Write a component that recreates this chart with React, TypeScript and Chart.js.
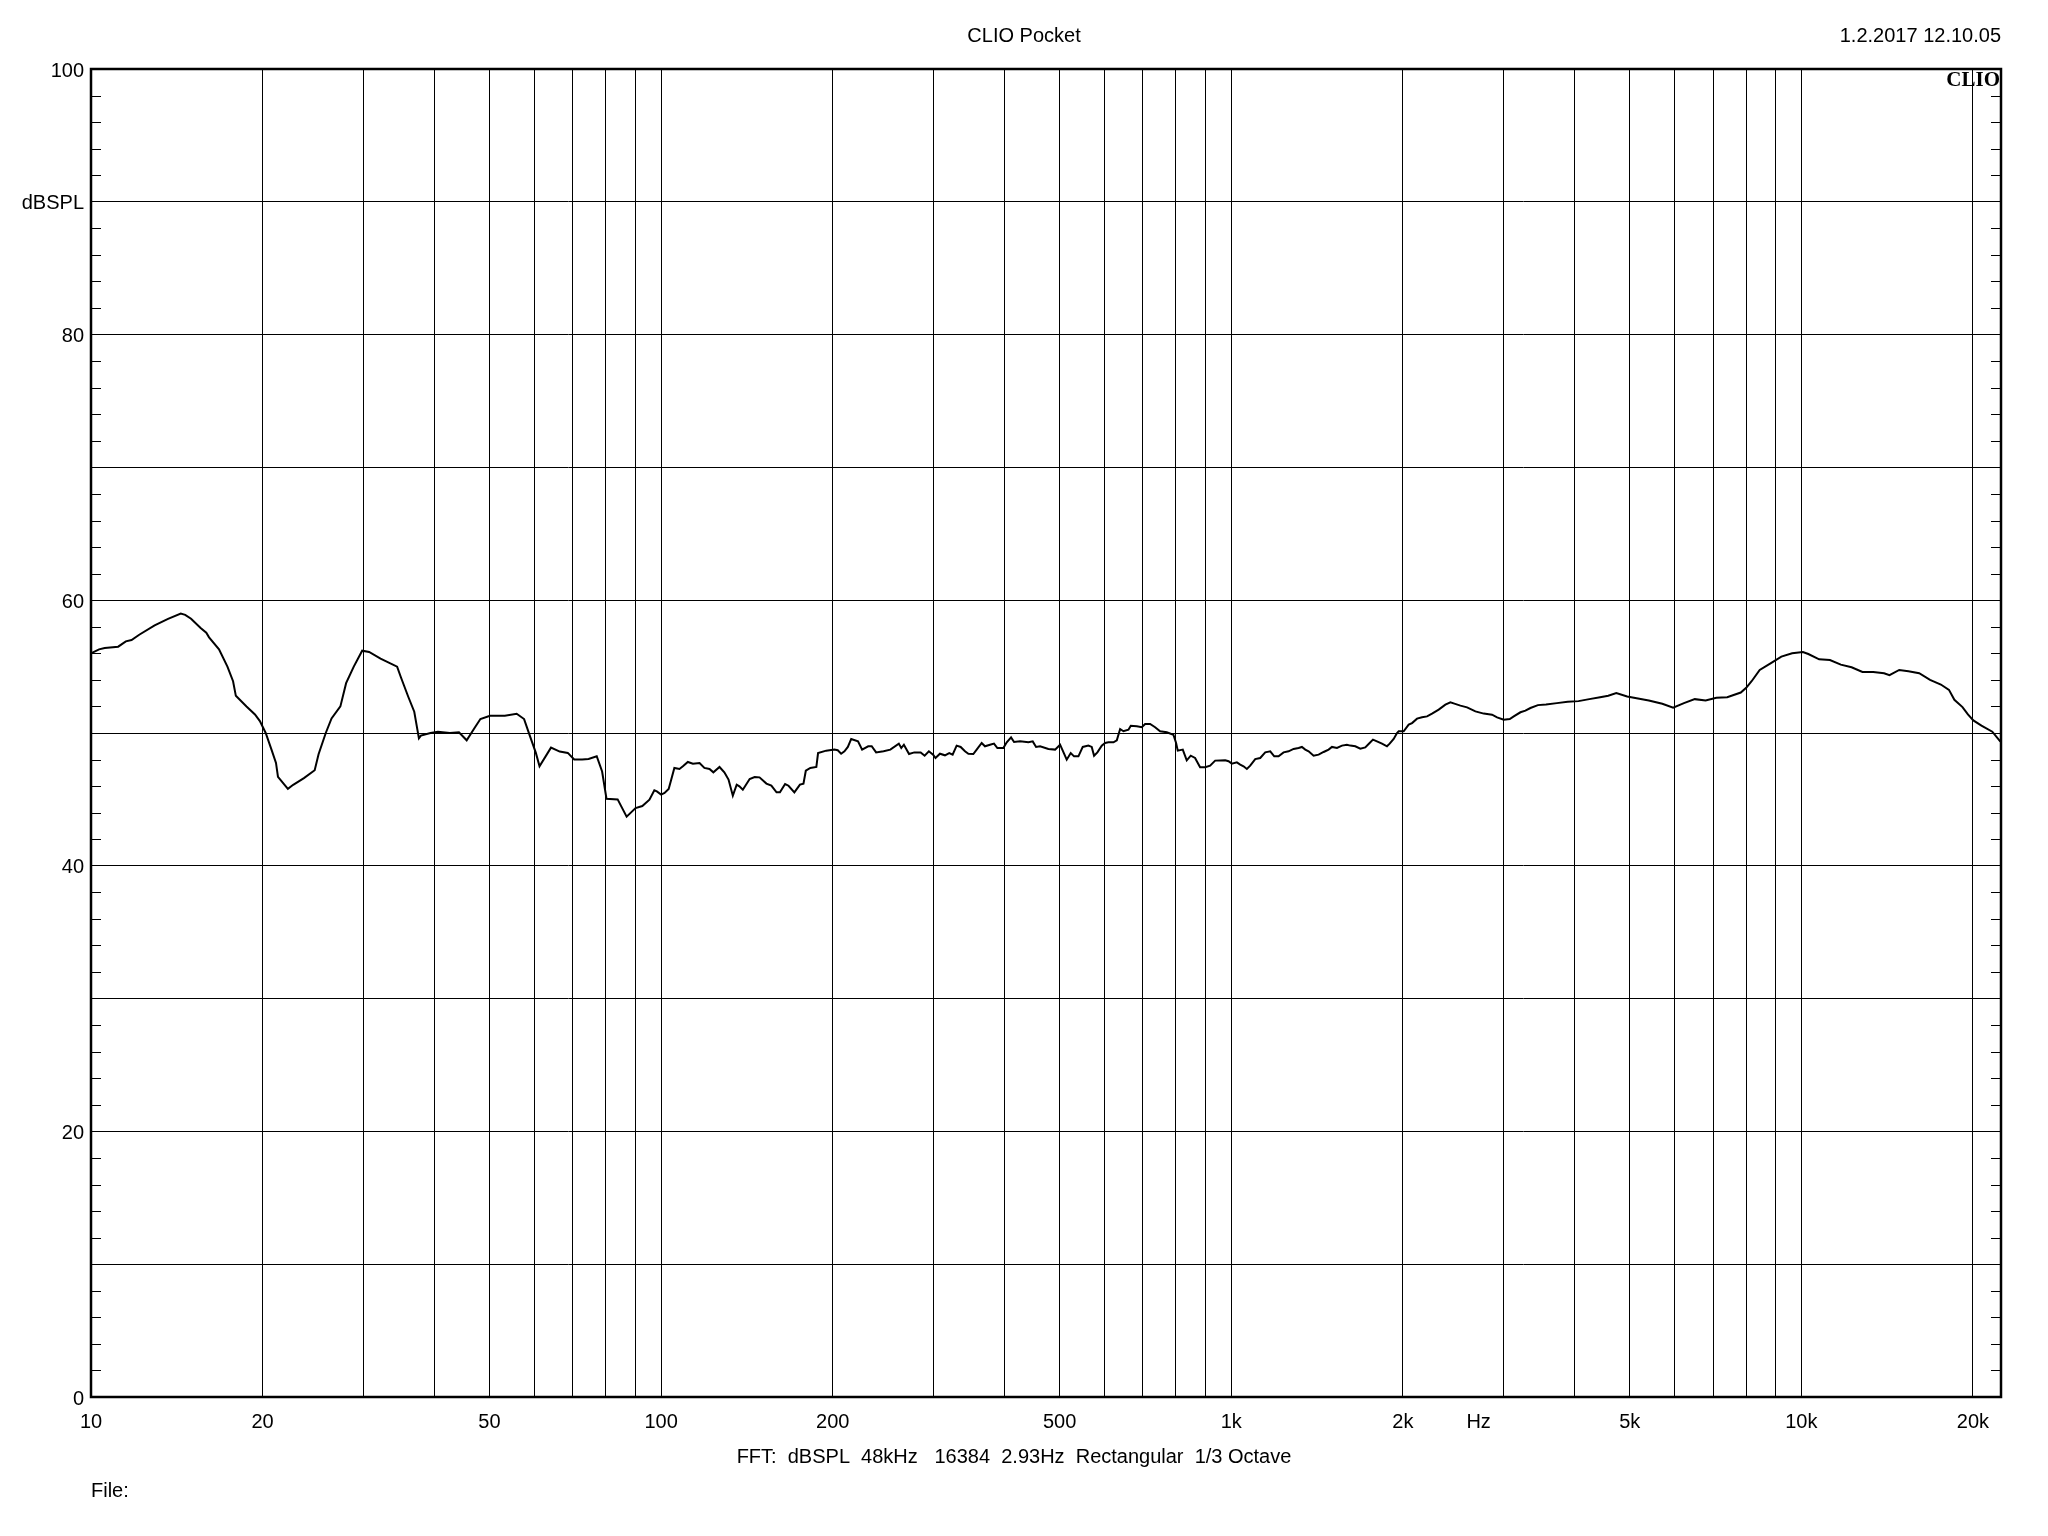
import React, { useEffect, useRef } from 'react';
import { Chart, registerables } from 'chart.js';

Chart.register(...registerables);

// Frequency response (Hz -> dBSPL)
const freqHz = [
  10.0, 10.33, 10.57, 11.16, 11.51, 11.78, 12.15, 12.93, 13.65, 14.37, 14.63, 14.98, 15.57, 15.93, 16.11, 16.77,
  17.35, 17.75, 17.95, 18.74, 19.39, 19.78, 20.25, 20.73, 21.11, 21.28, 22.15, 22.63, 23.63, 24.68, 25.07, 25.81,
  26.42, 27.38, 28.02, 28.9, 29.9, 30.75, 32.2, 34.43, 34.96, 36.0, 36.9, 37.6, 37.9, 39.4, 40.6, 42.6, 44.2, 45.6,
  47.1, 48.2, 50.1, 53.2, 55.8, 57.5, 58.9, 60.3, 61.2, 64.1, 66.4, 68.6, 70.4, 72.7, 74.6, 77.1, 78.8, 80.2, 83.9,
  87.0, 90.2, 92.7,
  95.4, 97.3, 98.3, 100, 101.4, 103.1, 104.1, 105.5, 107.7, 109.2, 111.4, 113.7, 116.8, 119.1, 121.6, 123.5,
  126.6, 129.1, 131.3, 133.6, 135.7, 137.2, 139.1, 143.0, 145.9, 148.8, 153.0, 156.1, 159.4, 161.6, 165.0, 167.3,
  171.3, 175.2, 177.7, 179.4, 182.7, 187.2, 188.5, 194.8, 201.3, 204.1, 206.9, 209.7, 212.6, 215.5, 221.5, 225.2,
  230.8, 234.1, 238.3, 245.6, 252.4, 261.2, 263.8, 266.6, 272.2, 278.0, 285.3, 289.9, 294.9, 300.0, 302.9,
  308.4, 314.7, 320.2, 324.6, 329.9, 335.3, 341.2, 345.9, 352.9, 357.7, 365.0, 369.9, 377.5, 383.6, 388.9, 398.4,
  403.9, 411.0, 416.0, 426.2, 440.8, 448.6, 454.7, 462.1, 477.9, 491.0, 501.0, 506.4, 514.6, 523.0, 530.1, 539.5,
  549.0, 561.6, 569.3, 574.7, 582.5, 592.8, 600.9, 609.0, 621.5, 630.0, 638.5, 647.1, 660.3, 666.6, 683.0, 696.9,
  706.3, 720.7, 735.4, 750.3, 770.8, 791.8, 800.4, 805.8, 822.3, 835.6, 849.2, 864.2, 881.9, 900.0, 918.4, 937.2,
  976.0, 989.3, 1002.6, 1023.0,
  1037.0, 1051.0, 1065.3, 1079.8, 1101.8, 1124.3, 1147.3, 1170.7, 1189.8, 1210.8, 1235.5, 1260.6, 1286.4, 1312.7,
  1330.5, 1348.6, 1366.9, 1394.8, 1423.3, 1452.4, 1481.9, 1502.1, 1532.8, 1564.1, 1595.9, 1617.6, 1650.7, 1684.2,
  1718.6, 1742.0, 1772.8, 1801.6, 1838.5, 1876.0, 1896.4, 1927.3, 1953.5, 1966.9, 2006.8, 2047.9, 2075.7, 2118.1,
  2161.4, 2205.6, 2250.3, 2311.7, 2374.9, 2423.5, 2463.0, 2523.7, 2592.6, 2681.3, 2773.0, 2867.9, 2926.4, 3006.4,
  3080.5, 3130.5, 3216.0, 3281.5, 3348.3,
  3451, 3566, 3726, 3892, 4066, 4247, 4437, 4585, 4737, 4949, 5170, 5401, 5704,
  5959, 6225, 6503, 6793, 7096, 7413, 7831, 8004, 8181, 8453, 8831, 9225, 9636, 10065, 10287, 10747, 11226, 11728,
  12251, 12799, 13371, 13969, 14278, 14850, 15413, 16098, 16818, 17570, 18155, 18556, 19174, 19598, 20032, 20700,
  21626, 22346,
];

const splDb = [
  56.0, 56.3, 56.4, 56.5, 56.9, 57.0, 57.4, 58.1, 58.6, 59.0, 58.9, 58.6, 57.9, 57.55, 57.2, 56.3,
  55.0, 53.9, 52.8, 52.0, 51.4, 50.9, 50.0, 48.75, 47.75, 46.7, 45.8, 46.1, 46.6, 47.2, 48.4, 50.0,
  51.1, 52.0, 53.75, 55.0, 56.2, 56.1, 55.6, 55.0, 54.2, 52.75, 51.6, 49.6, 49.8, 50.0, 50.1, 50.0, 50.05, 49.45,
  50.4, 51.05, 51.3, 51.3, 51.45, 51.05, 49.75, 48.5, 47.5, 48.9, 48.6, 48.5, 48.0, 48.0, 48.05, 48.25, 47.1, 45.05, 45.0,
  43.7, 44.35, 44.5,
  44.98, 45.68, 45.6, 45.36, 45.48, 45.78, 46.44, 47.37, 47.29, 47.49, 47.82, 47.69, 47.74, 47.37, 47.29, 47.04,
  47.44, 47.04, 46.49, 45.28, 46.11, 45.98, 45.73, 46.54, 46.69, 46.66, 46.19, 46.04, 45.53, 45.53, 46.16, 46.03,
  45.53, 46.11, 46.19, 47.16, 47.37, 47.44, 48.49, 48.67, 48.75, 48.7, 48.44, 48.62, 48.95, 49.55, 49.37, 48.75,
  49.0, 49.0, 48.54, 48.62, 48.75, 49.2, 48.87, 49.12, 48.42, 48.54, 48.54, 48.29, 48.62, 48.37, 48.12,
  48.44, 48.32, 48.49, 48.37, 49.05, 48.95, 48.62, 48.44, 48.42, 48.75, 49.25, 49.0, 49.12, 49.2, 48.87, 48.87,
  49.3, 49.67, 49.32, 49.37, 49.3, 49.37, 48.95, 49.0, 48.8, 48.75, 49.12, 48.67, 47.99, 48.49, 48.24, 48.24,
  48.95, 49.05, 48.95, 48.29, 48.54, 49.05, 49.25, 49.3, 49.3, 49.45, 50.3, 50.13, 50.25, 50.55, 50.5, 50.43,
  50.68, 50.68, 50.43, 50.13, 50.05, 49.87, 49.25, 48.67, 48.75, 47.94, 48.29, 48.12, 47.42, 47.42, 47.54, 47.92,
  47.94, 47.87, 47.69, 47.79,
  47.62, 47.49, 47.29, 47.54, 48.04, 48.12, 48.54, 48.62, 48.24, 48.24, 48.54, 48.62, 48.8, 48.87,
  48.95, 48.75, 48.62, 48.29, 48.37, 48.57, 48.75, 48.95, 48.87, 49.05, 49.12, 49.05, 49.0, 48.82,
  48.92, 49.17, 49.5, 49.37, 49.2, 49.0, 49.2, 49.55, 50.0, 50.13, 50.13, 50.63, 50.75, 51.08,
  51.18, 51.25, 51.46, 51.76, 52.13, 52.31, 52.21, 52.06, 51.93, 51.63, 51.46, 51.38, 51.18, 51.0,
  51.05, 51.25, 51.56, 51.68, 51.88,
  52.1, 52.15, 52.25, 52.35, 52.4, 52.55, 52.7, 52.8, 53.0, 52.75, 52.6, 52.45, 52.2,
  51.9, 52.25, 52.55, 52.45, 52.65, 52.7, 53.05, 53.4, 53.9, 54.75, 55.25, 55.75, 56.0, 56.1, 55.95, 55.55, 55.5, 55.15,
  54.95, 54.6, 54.6, 54.5, 54.35, 54.75, 54.65, 54.5, 54.0, 53.65, 53.25, 52.5, 51.95, 51.4, 50.95, 50.55,
  50.1, 49.35,
];

// Axis definitions
const xMin = 10;
const xMax = 22400;
const yMin = 0;
const yMax = 100;
const xGridValues = [
  10, 20, 30, 40, 50, 60, 70, 80, 90,
  100, 200, 300, 400, 500, 600, 700, 800, 900,
  1000, 2000, 3000, 4000, 5000, 6000, 7000, 8000, 9000,
  10000, 20000,
];
const xLabelValues = [10, 20, 50, 100, 200, 500, 1000, 2000, 5000, 10000, 20000];
const xLabelTexts = ['10', '20', '50', '100', '200', '500', '1k', '2k', '5k', '10k', '20k'];
const xUnitValue = 2716;
const xUnitText = 'Hz';
const yLabelValues = [100, 90, 80, 60, 40, 20, 0];
const yLabelTexts = ['100', 'dBSPL', '80', '60', '40', '20', '0'];
const yMinorTicks = [2, 4, 6, 8, 12, 14, 16, 18, 22, 24, 26, 28, 32, 34, 36, 38, 42, 44, 46, 48, 52, 54, 56, 58, 62, 64, 66, 68, 72, 74, 76, 78, 82, 84, 86, 88, 92, 94, 96, 98];

const titleText = 'CLIO Pocket';
const dateText = '1.2.2017 12.10.05';
const footerText = 'FFT:  dBSPL  48kHz   16384  2.93Hz  Rectangular  1/3 Octave';
const fileText = 'File:';
const logoText = 'CLIO';

const FONT = '20px "Liberation Sans", Arial, sans-serif';

const overlayPlugin = {
  id: 'clioOverlay',
  afterDraw(chart: any) {
    const { ctx, chartArea: a, scales } = chart;
    const xs = scales.x;
    const ys = scales.y;
    ctx.save();
    ctx.strokeStyle = '#000';
    ctx.fillStyle = '#000';

    // minor ticks on left and right
    ctx.lineWidth = 1;
    ctx.beginPath();
    for (const v of yMinorTicks) {
      const y = Math.round(ys.getPixelForValue(v)) + 0.5;
      ctx.moveTo(a.left, y);
      ctx.lineTo(a.left + 10, y);
      ctx.moveTo(a.right - 10, y);
      ctx.lineTo(a.right, y);
    }
    ctx.stroke();

    // frame
    ctx.lineWidth = 2.5;
    ctx.strokeRect(a.left, a.top, a.right - a.left, a.bottom - a.top);

    ctx.font = FONT;
    ctx.textBaseline = 'middle';

    // y labels
    ctx.textAlign = 'right';
    yLabelValues.forEach((v, i) => {
      ctx.fillText(yLabelTexts[i], a.left - 7, ys.getPixelForValue(v) + 2);
    });

    // x labels
    ctx.textAlign = 'center';
    const xLabelY = a.bottom + 25;
    xLabelValues.forEach((v, i) => {
      ctx.fillText(xLabelTexts[i], xs.getPixelForValue(v), xLabelY);
    });
    ctx.fillText(xUnitText, xs.getPixelForValue(xUnitValue), xLabelY);

    // title, date, footer
    ctx.fillText(titleText, chart.width / 2, 36);
    ctx.fillText(footerText, 1014, a.bottom + 60);
    ctx.textAlign = 'right';
    ctx.fillText(dateText, a.right, 36);
    ctx.textAlign = 'left';
    ctx.fillText(fileText, a.left, a.bottom + 94);

    // logo
    ctx.font = 'bold 21px "Liberation Serif", "Times New Roman", serif';
    ctx.textAlign = 'right';
    ctx.textBaseline = 'alphabetic';
    ctx.fillText(logoText, a.right - 1, a.top + 17);

    ctx.restore();
  },
};

export default function App() {
  const canvasRef = useRef<HTMLCanvasElement | null>(null);

  useEffect(() => {
    const canvas = canvasRef.current;
    if (!canvas) return;
    const points = freqHz.map((f, i) => ({ x: f, y: splDb[i] }));
    const chart = new Chart(canvas, {
      type: 'scatter',
      data: {
        datasets: [
          {
            data: points,
            showLine: true,
            borderColor: '#000',
            borderWidth: 2,
            pointRadius: 0,
            tension: 0,
            fill: false,
          },
        ],
      },
      options: {
        responsive: false,
        animation: false,
        events: [],
        layout: { padding: { left: 91, right: 47, top: 69, bottom: 139 } },
        plugins: {
          legend: { display: false },
          tooltip: { enabled: false },
          title: { display: false },
        },
        scales: {
          x: {
            type: 'logarithmic',
            min: xMin,
            max: xMax,
            border: { display: false },
            grid: { color: '#000', lineWidth: 1, drawTicks: false },
            ticks: { display: false },
            afterBuildTicks: (axis: any) => {
              axis.ticks = xGridValues.map((v) => ({ value: v }));
            },
            afterFit: (axis: any) => {
              axis.height = 0;
            },
          },
          y: {
            type: 'linear',
            min: yMin,
            max: yMax,
            border: { display: false },
            grid: { color: '#000', lineWidth: 1, drawTicks: false },
            ticks: { display: false, stepSize: 10 },
            afterFit: (axis: any) => {
              axis.width = 0;
            },
          },
        },
      },
      plugins: [overlayPlugin],
    });
    return () => chart.destroy();
  }, []);

  return (
    <div style={{ position: 'absolute', left: 0, top: 0, width: 2048, height: 1536, background: '#fff' }}>
      <canvas ref={canvasRef} width={2048} height={1536} style={{ display: 'block' }} />
    </div>
  );
}
